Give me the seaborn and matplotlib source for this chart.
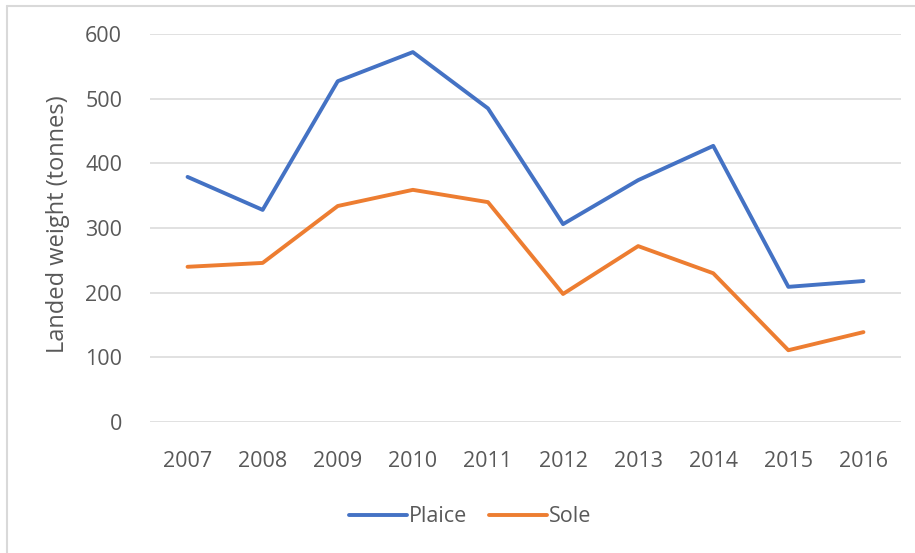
import matplotlib
matplotlib.use("Agg")
import matplotlib.pyplot as plt
from matplotlib.lines import Line2D
import seaborn as sns
import pandas as pd

years = ["2007", "2008", "2009", "2010", "2011", "2012", "2013", "2014", "2015", "2016"]
plaice = [379, 328, 527, 572, 485, 306, 374, 427, 209, 218]
sole = [240, 246, 334, 359, 340, 198, 272, 230, 111, 139]
series_names = ["Plaice", "Sole"]
y_ticks = [0, 100, 200, 300, 400, 500, 600]

df = pd.DataFrame({
    "Year": years * 2,
    "Weight": plaice + sole,
    "Species": [series_names[0]] * len(years) + [series_names[1]] * len(years),
})

sns.set_theme(style="white")
plt.rcParams["font.family"] = ["Open Sans", "DejaVu Sans"]

text_color = "#595959"
grid_color = "#D9D9D9"
palette = {"Plaice": "#4472C4", "Sole": "#ED7D31"}

fig = plt.figure(figsize=(9.15, 5.53), dpi=100)
ax = fig.add_axes([150 / 915, 1 - 422 / 553, 751 / 915, 388 / 553])

sns.lineplot(data=df, x="Year", y="Weight", hue="Species", palette=palette,
             linewidth=2.8, ax=ax, legend=False, sort=False)

ax.set_xlim(-0.5, len(years) - 0.5)
ax.set_ylim(0, 600)
ax.set_yticks(y_ticks)
ax.set_yticklabels([str(v) for v in y_ticks])
ax.yaxis.grid(True, color=grid_color, linewidth=1.1)
ax.xaxis.grid(False)
for s in ax.spines.values():
    s.set_visible(False)
ax.tick_params(axis="y", length=0, pad=20, labelsize=15.5, labelcolor=text_color)
ax.tick_params(axis="x", length=0, pad=21, labelsize=15.5, labelcolor=text_color)
ax.set_xlabel("")
ax.set_ylabel("")
fig.text(58 / 915, 1 - 224 / 553, "Landed weight (tonnes)", rotation=90,
         ha="center", va="center", fontsize=17, color=text_color)

handles = [Line2D([0], [0], color=palette[n], linewidth=2.8) for n in series_names]
fig.legend(handles, series_names, loc="center", bbox_to_anchor=(470 / 915, 1 - 517 / 553),
           ncol=2, frameon=False, fontsize=15.5, labelcolor=text_color,
           handlelength=2.7, handletextpad=0.1, columnspacing=1.0)

# Chart frame: top and left edges
fig.add_artist(Line2D([7 / 915, 7 / 915], [0, 1 - 6 / 553], transform=fig.transFigure,
                      color=grid_color, linewidth=1.5))
fig.add_artist(Line2D([7 / 915, 1], [1 - 6 / 553, 1 - 6 / 553], transform=fig.transFigure,
                      color=grid_color, linewidth=1.5))

fig.savefig("out.png", dpi=100, facecolor="white")
